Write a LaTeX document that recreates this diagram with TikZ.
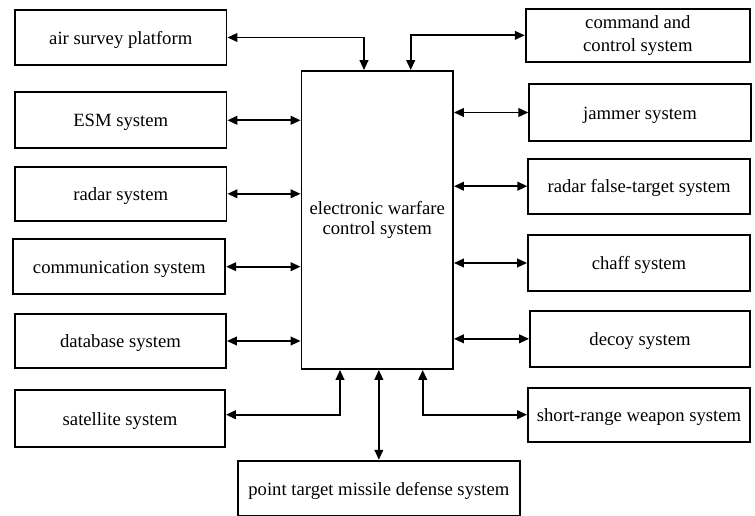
\documentclass[tikz,border=0pt]{standalone}
\usepackage{fontspec}
\setmainfont{Liberation Serif}
\usetikzlibrary{arrows.meta}
\begin{document}
\begin{tikzpicture}[x=0.75pt,y=-0.75pt,
  box/.style={draw, line width=1.4pt, inner sep=0pt, align=center, font=\fontsize{14}{17}\selectfont, text height=10pt, text depth=0pt},
  multi/.style={text height={}, text depth={}},
  sz/.style 2 args={minimum width=#1*0.75pt, minimum height=#2*0.75pt},
  dar/.style={line width=1.4pt, {Triangle[length=7.5pt,width=6.5pt]}-{Triangle[length=7.5pt,width=6.5pt]}}]
\useasboundingbox (0,0) rectangle (755,516);
% centre
\node[box, multi, sz={151.5}{298}, font=\fontsize{14}{15.5}\selectfont] (ewc) at (377.25,220) {electronic warfare\\control system};
% left column
\node[box, sz={211.5}{55}] (air) at (120.75,37.5) {air survey platform};
\node[box, sz={211.5}{56}] (esm) at (120.75,120.3) {ESM system};
\node[box, sz={211.5}{54}] (radar) at (120.75,193.8) {radar system};
\node[box, sz={212}{54.7}] (comm) at (119.3,266.7) {communication system};
\node[box, sz={211}{54.5}] (db) at (120.5,341) {database system};
\node[box, sz={210}{57}] (sat) at (120,418.7) {satellite system};
% right column
\node[box, multi, sz={224.3}{52.7}] (cmd) at (637.85,35.35) {command and\\control system};
\node[box, sz={221.4}{56.7}] (jam) at (640,112.5) {jammer system};
\node[box, sz={221.7}{55}] (rft) at (639.15,186.2) {radar false-target system};
\node[box, sz={222}{56}] (chaff) at (639,263) {chaff system};
\node[box, sz={220}{55.7}] (decoy) at (640,338.85) {decoy system};
\node[box, sz={222}{54}] (srw) at (639,414.7) {short-range weapon system};
% bottom
\node[box, sz={282.3}{55.3}] (pt) at (378.85,488.35) {point target missile defense system};
% connectors left
\draw[dar] (air.east) -| ([xshift=-9.94pt]ewc.north);
\draw[dar] (esm.east) -- (esm.east -| ewc.west);
\draw[dar] (radar.east) -- (radar.east -| ewc.west);
\draw[dar] (comm.east) -- (comm.east -| ewc.west);
\draw[dar] (db.east) -- (db.east -| ewc.west);
\draw[dar] (sat.east |- srw.west) -| ([xshift=-27.94pt]ewc.south);
% connectors right
\draw[dar] ([xshift=25.09pt]ewc.north) |- (cmd.west);
\draw[dar] (ewc.east |- jam.west) -- (jam.west);
\draw[dar] (ewc.east |- rft.west) -- (rft.west);
\draw[dar] (ewc.east |- chaff.west) -- (chaff.west);
\draw[dar] (ewc.east |- decoy.west) -- (decoy.west);
\draw[dar] ([xshift=34.09pt]ewc.south) |- (srw.west);
% bottom
\draw[dar] (pt.north |- ewc.south) -- (pt.north);
\end{tikzpicture}
\end{document}
